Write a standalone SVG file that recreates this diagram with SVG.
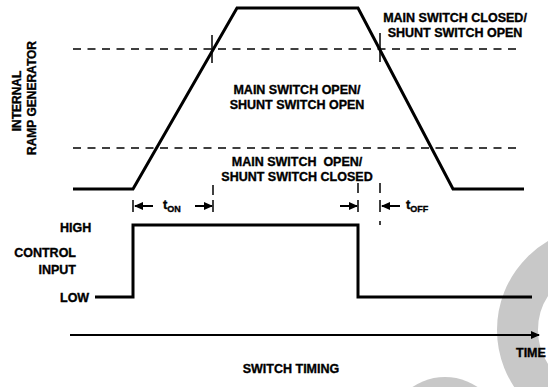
<svg xmlns="http://www.w3.org/2000/svg" width="548" height="387" viewBox="0 0 548 387">
<style>
  text { font-family: "Liberation Sans", Arial, sans-serif; font-weight: bold; fill: #000; stroke: #000; stroke-width: 0.35; }
  .lbl { font-size: 12.5px; }
  .mid { text-anchor: middle; }
  .end { text-anchor: end; }
  .sub { font-size: 9px; }
  .wave { fill: none; stroke: #000; stroke-width: 3; stroke-linejoin: miter; }
  .dash { fill: none; stroke: #000; stroke-width: 1.6; stroke-dasharray: 8 6.5; }
  .thin { fill: none; stroke: #000; stroke-width: 1.5; }
  .shaft { fill: none; stroke: #000; stroke-width: 2; }
  .wm { fill: none; stroke: #c8c8c8; }
</style>
<defs>
  <marker id="arr" markerWidth="10" markerHeight="8" refX="8" refY="4" orient="auto" markerUnits="userSpaceOnUse">
    <path d="M0,0 L9,4 L0,8 Z" fill="#000"/>
  </marker>
</defs>

<g id="watermark">
  <circle class="wm" cx="600" cy="330" r="82.5" stroke-width="41"/>
  <circle cx="445" cy="435" r="58" fill="#c8c8c8"/>
</g>

<g id="ramp-generator">
  <text transform="translate(21,101) rotate(-90)" style="font-size:12px" text-anchor="middle">INTERNAL</text>
  <text transform="translate(36,98) rotate(-90)" style="font-size:12px" text-anchor="middle">RAMP GENERATOR</text>
  <polyline class="wave" points="73,189 133,189 237,8 358,8 453,189 524,189"/>
  <line class="dash" x1="73" y1="49" x2="521" y2="49"/>
  <line class="dash" x1="73" y1="148" x2="521" y2="148"/>
</g>

<g id="region-closed">
  <text class="lbl mid" x="455" y="22">MAIN SWITCH CLOSED/</text>
  <text class="lbl mid" x="455" y="37">SHUNT SWITCH OPEN</text>
</g>
<g id="region-open">
  <text class="lbl mid" x="297" y="94">MAIN SWITCH OPEN/</text>
  <text class="lbl mid" x="297" y="109">SHUNT SWITCH OPEN</text>
</g>
<g id="region-shunt-closed">
  <text class="lbl mid" x="297" y="166" xml:space="preserve">MAIN SWITCH  OPEN/</text>
  <text class="lbl mid" x="297" y="181">SHUNT SWITCH CLOSED</text>
</g>

<g id="control-input">
  <text class="lbl" x="60" y="232">HIGH</text>
  <text class="lbl end" x="76" y="257">CONTROL</text>
  <text class="lbl end" x="76" y="274">INPUT</text>
  <text class="lbl" x="60" y="302">LOW</text>
  <polyline class="wave" points="95,297 133,297 133,225 358,225 358,297 532,297"/>
</g>

<g id="time-axis">
  <line class="shaft" x1="70" y1="335" x2="539" y2="335" marker-end="url(#arr)"/>
  <text class="lbl" x="516" y="357">TIME</text>
  <text class="lbl mid" x="291" y="373">SWITCH TIMING</text>
</g>

<g id="connectors">
  <line class="thin" x1="212" y1="35" x2="212" y2="63"/>
  <line class="thin" x1="380" y1="33" x2="380" y2="62"/>
  <line class="thin" x1="213" y1="185" x2="213" y2="195"/>
  <line class="thin" x1="358" y1="183" x2="358" y2="193"/>
  <line class="thin" x1="380" y1="183" x2="380" y2="193"/>
  <line class="thin" x1="380" y1="221" x2="380" y2="225"/>
  <line class="thin" x1="133" y1="200" x2="133" y2="212"/>
  <line class="shaft" x1="153" y1="206" x2="135" y2="206" marker-end="url(#arr)"/>
  <line class="shaft" x1="195" y1="206" x2="212" y2="206" marker-end="url(#arr)"/>
  <line class="thin" x1="213" y1="200" x2="213" y2="212"/>
  <line class="shaft" x1="340" y1="206" x2="357" y2="206" marker-end="url(#arr)"/>
  <line class="thin" x1="358" y1="200" x2="358" y2="212"/>
  <line class="thin" x1="380" y1="200" x2="380" y2="212"/>
  <line class="shaft" x1="400" y1="206" x2="382" y2="206" marker-end="url(#arr)"/>
</g>

<g id="timing-labels">
  <text class="lbl" x="163" y="209" style="font-size:13px">t<tspan class="sub" dy="3">ON</tspan></text>
  <text class="lbl" x="406" y="209" style="font-size:13px">t<tspan class="sub" dy="3">OFF</tspan></text>
</g>
</svg>
